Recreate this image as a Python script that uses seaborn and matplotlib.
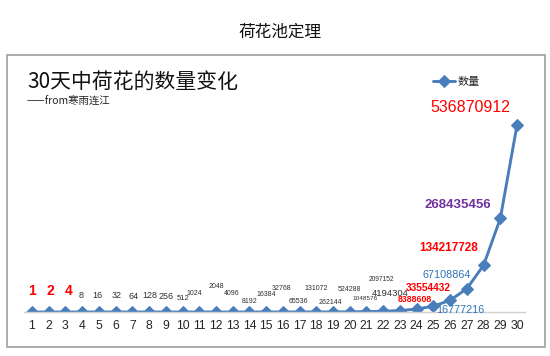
import numpy as np
import pandas as pd
import seaborn as sns
import matplotlib
matplotlib.use('Agg')
import matplotlib.pyplot as plt
from matplotlib.patches import Rectangle

# data: lotus count doubles every day
days = list(range(1, 31))
counts = [1, 2, 4, 8, 16, 32, 64, 128, 256, 512, 1024, 2048, 4096, 8192, 16384,
          32768, 65536, 131072, 262144, 524288, 1048576, 2097152, 4194304, 8388608,
          16777216, 33554432, 67108864, 134217728, 268435456, 536870912]
series_name = '数量'
page_title = '荷花池定理'
chart_title = '30天中荷花的数量变化'
chart_subtitle = '——from寒雨连江'

# label placement (offset from point in pixels, dy down) and styles
label_dx = [0, 2, 3, -1.5, -1.6, 1, 1, 0.3, 0, 0.8, -5, 0, -1, 0, 0,
            -1, -1, 0, -3, 0, -1.4, -1.4, -9.8, -1.6, 27, -21.7, -20, -35, -42, -47]
label_dy = [-20.5, -20.5, -20.5, -16.5, -16.5, -16.5, -15.5, -16.5, -15.5, -13.5, -18.5, -25, -18.5, -10.5, -17.5,
            -23.5, -10.5, -23.5, -9, -22.5, -13, -31.5, -17.5, -10, 4, -12.5, -13.8, -17.5, -13.5, -17]
label_size = [10, 10, 10, 6.5, 6.5, 6.5, 6.5, 6.5, 6.5, 5.5, 5, 5, 5, 5, 5,
              5, 5, 5, 5, 5, 4.6, 4.8, 6.8, 6.3, 7.8, 7.3, 7.8, 8.5, 9.5, 11.5]
red, blue, purple, dark = '#FF0000', '#2E75B6', '#7030A0', '#303030'
label_color = [red, red, red] + [dark] * 20 + [red, blue, red, blue, red, purple, red]
label_bold = [True, True, True] + [False] * 20 + [True, False, True, False, True, True, False]

line_color = '#4A7EBB'

df = pd.DataFrame({'day': days, series_name: counts})

sns.set_theme(style='white')
plt.rcParams['font.family'] = ['Liberation Sans', 'Noto Sans CJK SC', 'DejaVu Sans']

fig = plt.figure(figsize=(5.5, 3.56), dpi=100)
W, H = 550, 356

# outer frame
fig.patches.append(Rectangle((7 / W, 1 - 347 / H), 538 / W, 292 / H, transform=fig.transFigure,
                             fill=False, edgecolor='#A6A6A6', linewidth=1.3))

ax = fig.add_axes([23.6 / W, 44 / H, 501.8 / W, 209 / H])
sns.lineplot(data=df, x='day', y=series_name, ax=ax, color=line_color, linewidth=2.1,
             marker='D', markersize=6.5, markeredgecolor=line_color, label=series_name)

ax.set_xlim(0.5, 30.5)
ax.set_ylim(0, 6e8)
ax.set_xticks(days)
ax.set_xticklabels([str(d) for d in days], fontsize=8.8, color='#262626')
ax.set_yticks([])
ax.set_xlabel('')
ax.set_ylabel('')
ax.tick_params(axis='x', length=0, pad=6)
for side in ['top', 'left', 'right']:
    ax.spines[side].set_visible(False)
ax.spines['bottom'].set_color('#D0D0D0')
ax.spines['bottom'].set_linewidth(1)
ax.patch.set_alpha(0)

for i, (d, v) in enumerate(zip(days, counts)):
    ax.annotate(str(v), xy=(d, v), xytext=(label_dx[i] * 0.72, -label_dy[i] * 0.72),
                textcoords='offset points', ha='center', va='center',
                fontsize=label_size[i], color=label_color[i],
                fontweight='bold' if label_bold[i] else 'normal',
                annotation_clip=False)

leg = ax.legend(loc='center', bbox_to_anchor=(456 / W, 1 - 82 / H), bbox_transform=fig.transFigure,
                frameon=False, fontsize=8, handlelength=2.0, handletextpad=0.2, borderpad=0)
for t in leg.get_texts():
    t.set_family(['Noto Sans CJK SC'])

fig.text(280 / W, 1 - 32 / H, page_title, ha='center', va='center', fontsize=12,
         family=['Noto Sans CJK SC'], color='#111111')
fig.text(27 / W, 1 - 82 / H, chart_title, ha='left', va='center', fontsize=15,
         family=['Noto Sans CJK SC'], color='#111111')
fig.text(27 / W, 1 - 102 / H, chart_subtitle, ha='left', va='center', fontsize=7.5,
         family=['Noto Sans CJK SC'], color='#222222')

fig.savefig('out.png', dpi=100)
